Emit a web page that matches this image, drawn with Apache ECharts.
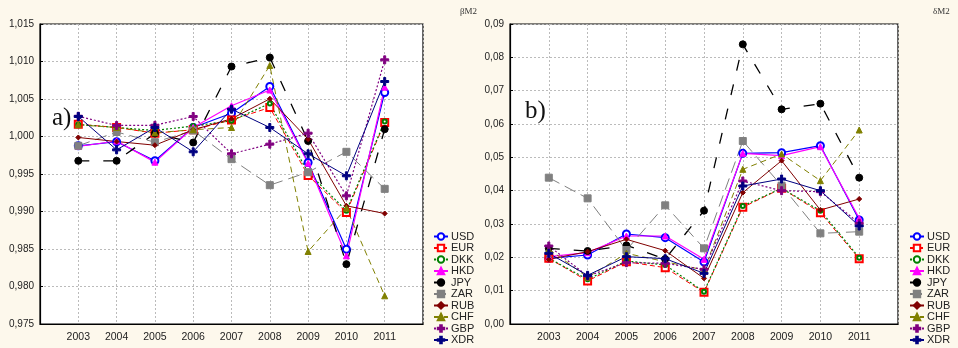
<!DOCTYPE html>
<html>
<head>
<meta charset="utf-8">
<script src="https://cdn.jsdelivr.net/npm/echarts@6/dist/echarts.min.js"></script>
<style>
  html, body { margin: 0; padding: 0; background: #fdf8ec; }
  #chart { width: 958px; height: 348px; }
</style>
</head>
<body>
<div id="chart"></div>
<script>
  // years on the x axis
  const years = [2003, 2004, 2005, 2006, 2007, 2008, 2009, 2010, 2011]
  const currencies = ['USD', 'EUR', 'DKK', 'HKD', 'JPY', 'ZAR', 'RUB', 'CHF', 'GBP', 'XDR']

  // a) βM2
  const betaUSD = [0.99876, 0.9993, 0.99676, 1.0012, 1.0031, 1.00667, 0.99653, 0.98498, 1.00587]
  const betaEUR = [1.00164, 1.0012, 1.00044, 1.0009, 1.0022, 1.00387, 0.9948, 0.98987, 1.00187]
  const betaDKK = [1.0016, 1.0012, 1.0008, 1.0014, 1.0021, 1.0044, 0.9952, 0.9901, 1.0020]
  const betaHKD = [0.99867, 0.9994, 0.99658, 1.0012, 1.0041, 1.0062, 0.99644, 0.98409, 1.00658]
  const betaJPY = [0.99676, 0.99676, 1.0004, 0.9992, 1.00933, 1.01053, 0.9994, 0.98298, 1.00098]
  const betaZAR = [0.99876, 1.0006, 0.99924, 1.0008, 0.99698, 0.99351, 0.99524, 0.99796, 0.99302]
  const betaRUB = [0.99987, 0.99933, 0.99884, 1.0009, 1.00236, 1.00502, 0.99964, 0.99076, 0.98973]
  const betaCHF = [1.00156, 1.0012, 1.0005, 1.0009, 1.0012, 1.00947, 0.98467, 0.99044, 0.97876]
  const betaGBP = [1.0027, 1.00147, 1.0015, 1.00267, 0.99769, 0.99898, 1.00044, 0.99209, 1.01022]
  const betaXDR = [1.00267, 0.99822, 1.0012, 0.99796, 1.00364, 1.0012, 0.99769, 0.99476, 1.00733]

  // b) δM2
  const deltaUSD = [0.0197, 0.0207, 0.0270, 0.0259, 0.0186, 0.0512, 0.0514, 0.0535, 0.0312]
  const deltaEUR = [0.0197, 0.0129, 0.0187, 0.0169, 0.0095, 0.0350, 0.0407, 0.0334, 0.0196]
  const deltaDKK = [0.0197, 0.0134, 0.0189, 0.0177, 0.0097, 0.0354, 0.0407, 0.0340, 0.0199]
  const deltaHKD = [0.0202, 0.0214, 0.0264, 0.0264, 0.0194, 0.0512, 0.0505, 0.0532, 0.0317]
  const deltaJPY = [0.0227, 0.0219, 0.0236, 0.0195, 0.0340, 0.0839, 0.0644, 0.0661, 0.0439]
  const deltaZAR = [0.0439, 0.0377, 0.0222, 0.0356, 0.0227, 0.0549, 0.0415, 0.0272, 0.0277]
  const deltaRUB = [0.0194, 0.0217, 0.0254, 0.0220, 0.0137, 0.0394, 0.0490, 0.0342, 0.0375]
  const deltaCHF = [0.0225, 0.0140, 0.0212, 0.0187, 0.0162, 0.0464, 0.0510, 0.0430, 0.0582]
  const deltaGBP = [0.0234, 0.0144, 0.0184, 0.0182, 0.0164, 0.0429, 0.0400, 0.0397, 0.0302]
  const deltaXDR = [0.0212, 0.0146, 0.0202, 0.0196, 0.0152, 0.0414, 0.0435, 0.0400, 0.0294]

  const betaData = [betaUSD, betaEUR, betaDKK, betaHKD, betaJPY, betaZAR, betaRUB, betaCHF, betaGBP, betaXDR]
  const deltaData = [deltaUSD, deltaEUR, deltaDKK, deltaHKD, deltaJPY, deltaZAR, deltaRUB, deltaCHF, deltaGBP, deltaXDR]

  const plus = 'path://M3,0H5V3H8V5H5V8H3V5H0V3H3Z'
  // line / marker look per currency
  const styles = {
    USD: { color: '#0000ff', symbol: 'emptyCircle', size: 7, type: 'solid', width: 1.2 },
    EUR: { color: '#ff0000', symbol: 'emptyRect', size: 7, type: [5, 3], width: 1 },
    DKK: { color: '#008000', symbol: 'emptyCircle', size: 4, type: [2, 2], width: 1.2 },
    HKD: { color: '#ff00ff', symbol: 'triangle', size: 6, type: 'solid', width: 1.2 },
    JPY: { color: '#000000', symbol: 'circle', size: 7, type: [11, 14], width: 1.3 },
    ZAR: { color: '#808080', symbol: 'rect', size: 7, type: [12, 6], width: 1 },
    RUB: { color: '#800000', symbol: 'diamond', size: 5, type: 'solid', width: 1 },
    CHF: { color: '#808000', symbol: 'triangle', size: 6, type: [6, 4], width: 1 },
    GBP: { color: '#800080', symbol: plus, size: 8, type: [2, 2], width: 1.2 },
    XDR: { color: '#000080', symbol: plus, size: 8, type: 'solid', width: 1 }
  }

  function makeSeries(data, idx) {
    return currencies.map((c, i) => {
      const s = styles[c]
      return {
        name: c,
        type: 'line',
        xAxisIndex: idx,
        yAxisIndex: idx,
        data: years.map((y, k) => [y, data[i][k]]),
        symbol: s.symbol,
        symbolSize: s.size,
        color: s.color,
        lineStyle: { color: s.color, type: s.type, width: s.width },
        itemStyle: { color: s.color, borderColor: s.color, borderWidth: 1 },
        animation: false
      }
    })
  }

  const xAxisBase = {
    type: 'value',
    min: 2002,
    max: 2012,
    interval: 1,
    axisLine: { show: true, onZero: false, lineStyle: { color: '#000', width: 1.2 } },
    axisTick: { show: false },
    axisLabel: {
      color: '#222', fontSize: 10.5, fontFamily: 'Liberation Sans', margin: 8,
      formatter: v => (v >= 2003 && v <= 2011) ? String(v) : ''
    },
    splitLine: { show: true, lineStyle: { color: '#bbb', type: [2, 2] } }
  }
  const yAxisBase = {
    type: 'value',
    axisLine: { show: true, lineStyle: { color: '#000', width: 1.2 } },
    axisTick: { show: true, inside: true, length: 3, lineStyle: { color: '#000' } },
    splitLine: { show: true, lineStyle: { color: '#bbb', type: [2, 2] } }
  }

  const legendBase = {
    orient: 'vertical',
    padding: 0,
    itemWidth: 14,
    itemHeight: 8,
    itemGap: 0.5,
    height: 130,
    textStyle: { fontSize: 11, lineHeight: 11, fontFamily: 'Liberation Sans', color: '#222', padding: [0, 0, 0, -2] },
    data: currencies
  }

  const chart = echarts.init(document.getElementById('chart'))
  chart.setOption({
    backgroundColor: '#fdf8ec',
    grid: [
      { left: 40, top: 24, width: 383, height: 300, show: true, backgroundColor: '#fff', borderColor: '#000', borderWidth: 1.2 },
      { left: 510, top: 24, width: 388, height: 300, show: true, backgroundColor: '#fff', borderColor: '#000', borderWidth: 1.2 }
    ],
    xAxis: [
      Object.assign({}, xAxisBase, { gridIndex: 0 }),
      Object.assign({}, xAxisBase, { gridIndex: 1 })
    ],
    yAxis: [
      Object.assign({}, yAxisBase, {
        gridIndex: 0, min: 0.975, max: 1.015, interval: 0.005,
        axisLabel: { color: '#222', fontSize: 10, fontFamily: 'Liberation Sans', margin: 6,
          formatter: v => v.toFixed(3).replace('.', ',') }
      }),
      Object.assign({}, yAxisBase, {
        gridIndex: 1, min: 0, max: 0.09, interval: 0.01,
        axisLabel: { color: '#222', fontSize: 10, fontFamily: 'Liberation Sans', margin: 6,
          formatter: v => v.toFixed(2).replace('.', ',') }
      })
    ],
    legend: [
      Object.assign({}, legendBase, { left: 433, top: 231 }),
      Object.assign({}, legendBase, { left: 909, top: 231 })
    ],
    graphic: [
      { type: 'text', left: 52, top: 106, style: { text: 'a)', font: '25px "Liberation Serif"', fill: '#111' } },
      { type: 'text', left: 525, top: 99, style: { text: 'b)', font: '25px "Liberation Serif"', fill: '#111' } },
      { type: 'text', left: 460, top: 7, style: { text: 'βM2', font: '9px "Liberation Serif"', fill: '#333' } },
      { type: 'text', left: 933, top: 7, style: { text: 'δM2', font: '9px "Liberation Serif"', fill: '#333' } }
    ],
    series: makeSeries(betaData, 0).concat(makeSeries(deltaData, 1))
  })
</script>
</body>
</html>
